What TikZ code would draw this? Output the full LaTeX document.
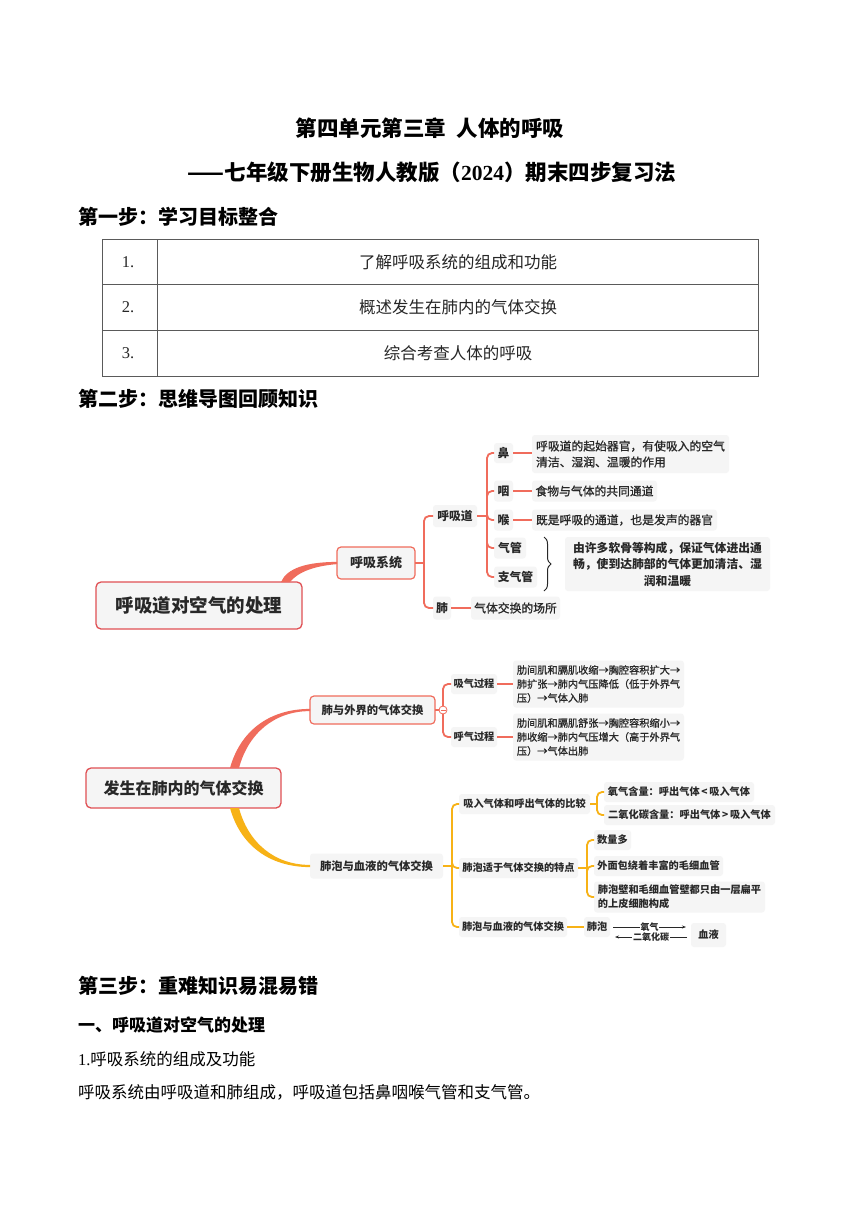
\documentclass[tikz,border=0pt]{standalone}
\usepackage{fontspec}
\setmainfont{Liberation Serif}
\newfontfamily\cjk{Noto Sans CJK SC}
\newfontfamily\cjkm[FakeBold=1]{Noto Sans CJK SC}
\usetikzlibrary{decorations.pathreplacing,arrows.meta,calc}
\definecolor{coral}{RGB}{240,108,92}
\definecolor{redb}{RGB}{224,80,84}
\definecolor{orng}{RGB}{247,178,22}
\definecolor{nfill}{RGB}{245,245,245}
\definecolor{tdark}{RGB}{40,40,40}
\definecolor{tline}{RGB}{90,90,90}
\tikzset{
  every node/.style={inner sep=0pt,outer sep=0pt},
  head/.style={anchor=west,font=\cjk\bfseries\fontsize{20}{24}\selectfont},
  ttl/.style={font=\cjk\bfseries\fontsize{21.5}{24}\selectfont},
  cell/.style={font=\cjk\fontsize{16.5}{20}\selectfont,text=black!85},
  num/.style={font=\rmfamily\fontsize{16.5}{20}\selectfont,text=black!85},
  body/.style={anchor=west,font=\cjk\fontsize{16.5}{20}\selectfont},
  bx/.style={fill=nfill,rounded corners=3,text=tdark,anchor=west,align=center},
  cen/.style={bx,draw=redb,line width=1.3,rounded corners=5,font=\cjk\bfseries},
  mid/.style={bx,draw=coral,line width=1.2,rounded corners=4},
  lab/.style={bx,font=\cjk\bfseries\fontsize{11.8}{15}\selectfont},
  leaf/.style={bx,align=left,font=\cjkm\fontsize{11.8}{16}\selectfont},
  sm/.style={bx,font=\cjk\bfseries\fontsize{10.2}{13}\selectfont},
  smleaf/.style={bx,align=left,font=\cjkm\fontsize{10.2}{14}\selectfont},
  cc/.style={draw=coral,line width=1.8,rounded corners=5},
  oc/.style={draw=orng,line width=1.8,rounded corners=5},
}
\begin{document}
\begin{tikzpicture}[x=1pt,y=-1pt]
\useasboundingbox[fill=white] (0,0) rectangle (860,1216);

% titles
\node[ttl] (t1) at (430,128) {第四单元第三章\hspace{0.5em}人体的呼吸};
\node[ttl] (t2) at (432,172) {——七年级下册生物人教版（{\rmfamily\bfseries 2024}）期末四步复习法};
\node[head] (h1) at (78,217) {第一步：学习目标整合};

% table
\draw[tline,line width=0.9] (102,239) rectangle (758,376);
\draw[tline,line width=0.9] (102,284) -- (758,284);
\draw[tline,line width=0.9] (102,330) -- (758,330);
\draw[tline,line width=0.9] (157,239) -- (157,376);
\node[num] (n1) at (128,262) {1.};
\node[num] (n2) at (128,307) {2.};
\node[num] (n3) at (128,353) {3.};
\node[cell] (g1) at (458,262) {了解呼吸系统的组成和功能};
\node[cell] (g2) at (458,307) {概述发生在肺内的气体交换};
\node[cell] (g3) at (458,353) {综合考查人体的呼吸};

\node[head] (h2) at (78,399) {第二步：思维导图回顾知识};

% ---------- mind map 1 ----------
\node[cen,minimum width=206,minimum height=47,font=\cjk\bfseries\fontsize{18.5}{20}\selectfont] (c1) at (96,605.5) {呼吸道对空气的处理};
\node[mid,minimum width=78,minimum height=32,font=\cjk\bfseries\fontsize{13}{15}\selectfont] (s1) at (337,563) {呼吸系统};
\node[lab,minimum width=44,minimum height=22] (hxd) at (433,516) {呼吸道};
\node[lab,minimum width=18,minimum height=23] (fei) at (433,608) {肺};
\node[lab,minimum width=19,minimum height=20] (bi) at (494,453) {鼻};
\node[lab,minimum width=19,minimum height=21] (yan) at (494,491) {咽};
\node[lab,minimum width=19,minimum height=21] (hou) at (494,520) {喉};
\node[lab,minimum width=32,minimum height=21] (qg) at (494,548) {气管};
\node[lab,minimum width=43,minimum height=21] (zqg) at (494,577) {支气管};
\node[leaf,minimum width=197,minimum height=38] (l1) at (532,454) {呼吸道的起始器官，有使吸入的空气\\清洁、湿润、温暖的作用};
\node[leaf,minimum width=125,minimum height=21] (l2) at (532,491) {食物与气体的共同通道};
\node[leaf,minimum width=185,minimum height=21] (l3) at (532,520) {既是呼吸的通道，也是发声的器官};
\node[bx,minimum width=205,minimum height=54,font=\cjk\bfseries\fontsize{11.8}{16.5}\selectfont] (l4) at (565,564) {由许多软骨等构成，保证气体进出通\\畅，使到达肺部的气体更加清洁、湿\\润和温暖};
\node[leaf,minimum width=89,minimum height=23] (l5) at (471,608) {气体交换的场所};

\fill[coral] ([xshift=-21]c1.north east) .. controls (287,568) and (307,562) .. ([yshift=1.1]s1.west)
  -- ([yshift=-1.1]s1.west) .. controls (314,566) and (298,572) .. ([xshift=-12]c1.north east) -- cycle;
\draw[cc] (s1.east) -- ++(9,0) coordinate (j1);
\draw[cc] (j1) |- (hxd.west);
\draw[cc] (j1) |- (fei.west);
\draw[cc] (hxd.east) -- ++(10,0) coordinate (j2);
\foreach \n in {bi,yan,hou,qg,zqg} \draw[cc] (j2) |- (\n.west);
\draw[cc] (bi.east) -- (l1.west |- bi.east);
\draw[cc] (yan.east) -- (l2.west);
\draw[cc] (hou.east) -- (l3.west);
\draw[cc] (fei.east) -- (l5.west);
\draw[tdark,line width=1,decorate,decoration={brace,amplitude=7,aspect=0.5}]
  ([xshift=-21]l4.north west) -- ([xshift=-21]l4.south west);

% ---------- mind map 2 ----------
\node[cen,minimum width=195,minimum height=40,font=\cjk\bfseries\fontsize{16}{18}\selectfont] (c2) at (86,788) {发生在肺内的气体交换};
\node[mid,minimum width=125,minimum height=28,font=\cjk\bfseries\fontsize{11.3}{13}\selectfont] (p1) at (310,710) {肺与外界的气体交换};
\node[bx,minimum width=133,minimum height=25,font=\cjk\bfseries\fontsize{11.3}{13}\selectfont] (p2) at (310,866) {肺泡与血液的气体交换};
\node[sm,minimum width=46,minimum height=20] (xq) at (451,684) {吸气过程};
\node[sm,minimum width=46,minimum height=20] (hq) at (451,737) {呼气过程};
\node[smleaf,minimum width=171,minimum height=47] (bx1) at (513,684) {肋间肌和膈肌收缩→胸腔容积扩大→\\肺扩张→肺内气压降低（低于外界气\\压）→气体入肺};
\node[smleaf,minimum width=171,minimum height=47] (bx2) at (513,737) {肋间肌和膈肌舒张→胸腔容积缩小→\\肺收缩→肺内气压增大（高于外界气\\压）→气体出肺};
\node[sm,minimum width=131,minimum height=20] (cmp) at (459,804) {吸入气体和呼出气体的比较};
\node[sm,minimum width=119,minimum height=20] (tz) at (459,868) {肺泡适于气体交换的特点};
\node[sm,minimum width=108,minimum height=20] (jh) at (459,927) {肺泡与血液的气体交换};
\node[sm,minimum width=150,minimum height=20] (o2) at (604,792) {氧气含量：呼出气体\,<\,吸入气体};
\node[sm,minimum width=171,minimum height=20] (co2) at (604,815) {二氧化碳含量：呼出气体\,>\,吸入气体};
\node[sm,minimum width=37,minimum height=20] (sl) at (594,840) {数量多};
\node[sm,minimum width=129,minimum height=20] (mx) at (594,866) {外面包绕着丰富的毛细血管};
\node[sm,align=left,minimum width=171,minimum height=31,font=\cjk\bfseries\fontsize{10.2}{14}\selectfont] (bp) at (594,897) {肺泡壁和毛细血管壁都只由一层扁平\\的上皮细胞构成};
\node[sm,minimum width=26,minimum height=20] (fp) at (584,927) {肺泡};
\node[sm,minimum width=35,minimum height=24] (xy) at (691,935) {血液};

\fill[coral] ([xshift=-51]c2.north east) .. controls (240,732) and (268,709) .. ([yshift=1.1]p1.west)
  -- ([yshift=-1.1]p1.west) .. controls (274,711) and (248,734) .. ([xshift=-42]c2.north east) -- cycle;
\fill[orng] ([xshift=-51]c2.south east) .. controls (240,844) and (268,867) .. ([yshift=-1.1]p2.west)
  -- ([yshift=1.1]p2.west) .. controls (274,865) and (248,842) .. ([xshift=-42]c2.south east) -- cycle;

\draw[cc] (p1.east) -- ++(8,0) coordinate (j3);
\draw[cc] (j3) |- (xq.west);
\draw[cc] (j3) |- (hq.west);
\draw[cc] (xq.east) -- (bx1.west |- xq.east);
\draw[cc] (hq.east) -- (bx2.west |- hq.east);
\node[circle,draw=coral,fill=white,line width=0.8,minimum size=8] (tog) at (j3) {};
\draw[coral,line width=0.7] ([xshift=-2.5]tog.center) -- ([xshift=2.5]tog.center);

\draw[oc] (p2.east) -- ++(9,0) coordinate (j4);
\foreach \n in {cmp,tz,jh} \draw[oc] (j4) |- (\n.west);
\draw[oc] (cmp.east) -- ++(7,0) coordinate (j5);
\foreach \n in {o2,co2} \draw[oc] (j5) |- (\n.west);
\draw[oc] (tz.east) -- ++(9,0) coordinate (j6);
\foreach \n in {sl,mx,bp} \draw[oc] (j6) |- (\n.west);
\draw[oc] (jh.east) -- (fp.west);

\draw[tdark,line width=0.8,-{Stealth[length=4,width=3]}] ($(fp.east)+(3,0)$) -- ($(xy.west)+(-5,-8)$)
  node[midway,fill=white,inner sep=0.6,font=\cjk\bfseries\fontsize{9}{10}\selectfont] (lo2) {氧气};
\draw[tdark,line width=0.8,-{Stealth[length=4,width=3]}] ($(xy.west)+(-4,2)$) -- ($(fp.east)+(5,10)$)
  node[midway,fill=white,inner sep=0.6,font=\cjk\bfseries\fontsize{9}{10}\selectfont] (lco2) {二氧化碳};

% ---------- step 3 ----------
\node[head] (h3) at (78,986) {第三步：重难知识易混易错};
\node[anchor=west,font=\cjk\bfseries\fontsize{17}{20}\selectfont] (h4) at (78,1025) {一、呼吸道对空气的处理};
\node[body] (b1) at (78,1059) {{\rmfamily 1.}呼吸系统的组成及功能};
\node[body] (b2) at (78,1092) {呼吸系统由呼吸道和肺组成，呼吸道包括鼻咽喉气管和支气管。};
\end{tikzpicture}
\end{document}
